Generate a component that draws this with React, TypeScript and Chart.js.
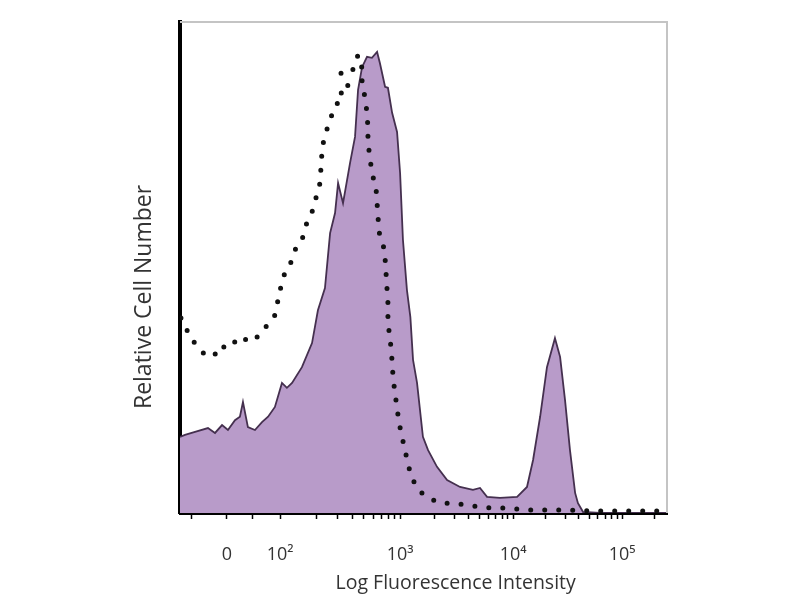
import React, { useEffect, useRef } from 'react';
import { Chart, registerables } from 'chart.js';

Chart.register(...registerables);

// x in display channels (0..256), y in relative cell number (% of max)
const STAINED_X = [0, 2.6, 7.9, 14.7, 18.4, 22.1, 25.2, 28.9, 31.5, 33.1, 35.7, 39.4, 43.1, 46.3, 49.9, 53.6, 56.2, 58.9, 64.1, 69.4, 72.5, 76.2, 78.9, 81.5, 83.1, 85.7, 89.4, 92.0, 93.6, 95.7, 98.3, 100.9, 103.6, 105.1, 107.8, 109.3, 111.5, 114.1, 115.7, 117.2, 119.3, 121.1, 122.5, 124.6, 127.7, 130.4, 135.1, 140.4, 147.2, 154.0, 157.7, 161.4, 168.2, 177.2, 182.4, 185.6, 189.3, 192.9, 197.1, 199.8, 202.4, 205.0, 207.7, 209.2, 211.9, 220.8, 256];
const STAINED_Y = [15.5, 15.9, 16.5, 17.3, 16.3, 17.9, 16.9, 18.9, 19.6, 22.6, 17.5, 16.9, 18.5, 19.6, 21.6, 26.5, 25.5, 26.5, 29.7, 34.6, 41.3, 45.8, 57.0, 61.1, 67.2, 63.1, 71.3, 76.6, 86.2, 90.8, 92.9, 92.7, 93.9, 91.6, 86.8, 86.6, 81.5, 77.6, 69.2, 55.6, 45.4, 39.9, 31.2, 26.5, 15.5, 12.8, 9.4, 6.7, 5.3, 4.7, 5.1, 3.3, 3.1, 3.3, 5.3, 10.8, 19.6, 29.7, 35.6, 31.8, 23.0, 12.8, 4.1, 2.0, 0.2, 0, 0];

const CONTROL_X = [0.5, 2.6, 5.3, 8.9, 13.1, 16.8, 20.0, 23.7, 27.3, 31.5, 35.2, 39.4, 43.1, 46.3, 49.9, 52.6, 55.2, 57.8, 60.5, 64.1, 66.8, 69.4, 71.5, 73.6, 74.1, 74.6, 75.7, 78.9, 81.5, 85.7, 84.1, 88.3, 84.6, 90.4, 93.6, 95.7, 95.7, 97.3, 98.3, 98.8, 98.8, 99.9, 100.9, 103.0, 103.6, 104.1, 104.6, 106.7, 107.8, 108.3, 108.8, 109.3, 109.3, 109.9, 110.9, 111.5, 112.0, 113.0, 114.1, 115.1, 116.7, 118.3, 119.9, 122.0, 125.1, 130.4, 136.7, 143.0, 150.9, 157.7, 164.5, 171.9, 184.0, 199.8, 220.8, 256];
const CONTROL_Y = [39.7, 38.3, 35.6, 34.2, 32.2, 32.8, 32.0, 34.2, 35.2, 34.2, 35.6, 35.2, 37.3, 38.3, 40.3, 45.4, 49.1, 50.5, 53.6, 55.6, 59.3, 61.3, 64.2, 67.2, 70.3, 73.3, 76.4, 80.0, 83.1, 84.1, 86.6, 87.0, 89.6, 89.8, 93.3, 90.6, 87.6, 84.5, 81.5, 78.4, 75.4, 72.3, 69.2, 66.4, 63.1, 60.3, 57.2, 55.0, 51.9, 48.9, 45.8, 42.8, 39.9, 36.9, 33.8, 30.8, 27.7, 24.4, 21.4, 18.5, 15.5, 12.8, 9.8, 7.1, 4.7, 3.1, 2.0, 2.0, 1.6, 1.2, 1.0, 1.0, 0.6, 0.6, 0.4, 0.4];

const TICK_VALUES = [24.7, 52.6, 115.7, 175.1, 232.4];
const TICK_LABELS = ['0', '10²', '10³', '10⁴', '10⁵'];
const LINEAR_MINOR_TICKS = [6, 38];

const X_TITLE = 'Log Fluorescence Intensity';
const Y_TITLE = 'Relative Cell Number';

const X_MIN = 0;
const X_MAX = 256;

function buildTicks(): number[] {
  const out: number[] = [...TICK_VALUES, ...LINEAR_MINOR_TICKS];
  const decades = TICK_VALUES.slice(1);
  const step = decades[decades.length - 1] - decades[decades.length - 2];
  const ext = [...decades, decades[decades.length - 1] + step];
  for (let d = 0; d < ext.length - 1; d++) {
    for (let k = 2; k <= 9; k++) {
      const v = ext[d] + Math.log10(k) * (ext[d + 1] - ext[d]);
      if (v < X_MAX) out.push(v);
    }
  }
  return out.sort((a, b) => a - b);
}

const framePlugin = {
  id: 'frame',
  afterDraw(chart: any) {
    const { ctx, chartArea } = chart;
    const w = chartArea.right - chartArea.left;
    const h = chartArea.bottom - chartArea.top;
    ctx.save();
    ctx.strokeStyle = '#c4c4c4';
    ctx.lineWidth = 2;
    ctx.beginPath();
    ctx.moveTo(chartArea.left, chartArea.top);
    ctx.lineTo(chartArea.right, chartArea.top);
    ctx.lineTo(chartArea.right, chartArea.bottom);
    ctx.stroke();

    ctx.fillStyle = '#333333';
    ctx.textAlign = 'center';
    ctx.textBaseline = 'middle';
    // x axis title, placed right of centre as in the source figure
    ctx.font = '19.5px "Open Sans"';
    ctx.fillText(X_TITLE, chartArea.left + w * 0.566, chartArea.bottom + 70);
    // y axis title, slightly below the plot middle
    ctx.translate(chartArea.left - 36, chartArea.top + h * 0.56);
    ctx.rotate(-Math.PI / 2);
    ctx.font = '23px "Open Sans"';
    ctx.fillText(Y_TITLE, 0, 0);
    ctx.restore();
  },
};

export default function App() {
  const ref = useRef<HTMLCanvasElement | null>(null);

  useEffect(() => {
    if (!ref.current) return;
    const allTicks = buildTicks();
    const chart = new Chart(ref.current, {
      type: 'line',
      data: {
        datasets: [
          {
            label: 'Control',
            data: CONTROL_X.map((x, i) => ({ x, y: CONTROL_Y[i] })),
            borderColor: '#111111',
            borderWidth: 5,
            borderDash: [0, 14],
            borderCapStyle: 'round',
            pointRadius: 0,
            fill: false,
            tension: 0,
            order: 0,
          },
          {
            label: 'Stained',
            data: STAINED_X.map((x, i) => ({ x, y: STAINED_Y[i] })),
            borderColor: '#45304f',
            borderWidth: 1.8,
            backgroundColor: '#b89bc9',
            fill: 'origin',
            pointRadius: 0,
            tension: 0,
            order: 1,
          },
        ],
      },
      options: {
        animation: false,
        responsive: false,
        maintainAspectRatio: false,
        layout: { padding: { left: 131, top: 22, right: 133, bottom: 0 } },
        plugins: { legend: { display: false }, tooltip: { enabled: false } },
        scales: {
          x: {
            type: 'linear',
            min: X_MIN,
            max: X_MAX,
            afterBuildTicks: (s: any) => {
              s.ticks = allTicks.map((v) => ({ value: v }));
            },
            afterFit: (s: any) => {
              s.height = 87;
            },
            ticks: {
              autoSkip: false,
              maxRotation: 0,
              minRotation: 0,
              padding: 25,
              color: '#333333',
              font: { family: 'Open Sans', size: 18 },
              callback: (v: any) => {
                const i = TICK_VALUES.indexOf(v);
                return i >= 0 ? TICK_LABELS[i] : '';
              },
            },
            grid: {
              display: true,
              drawOnChartArea: false,
              drawTicks: true,
              tickLength: 6,
              tickColor: '#000',
              tickWidth: 1.5,
            },
            border: { display: true, color: '#000', width: 3 },
            title: { display: false, text: X_TITLE },
          },
          y: {
            min: 0,
            max: 100,
            afterFit: (s: any) => {
              s.width = 49;
            },
            ticks: { display: false },
            grid: { display: true, drawOnChartArea: false, drawTicks: false },
            border: { display: true, color: '#000', width: 4 },
            title: { display: false, text: Y_TITLE },
          },
        },
      },
      plugins: [framePlugin],
    } as any);
    return () => chart.destroy();
  }, []);

  return (
    <div style={{ position: 'fixed', left: 0, top: 0, width: 800, height: 600, background: '#fff' }}>
      <canvas ref={ref} width={800} height={600} style={{ display: 'block', width: 800, height: 600 }} />
    </div>
  );
}
